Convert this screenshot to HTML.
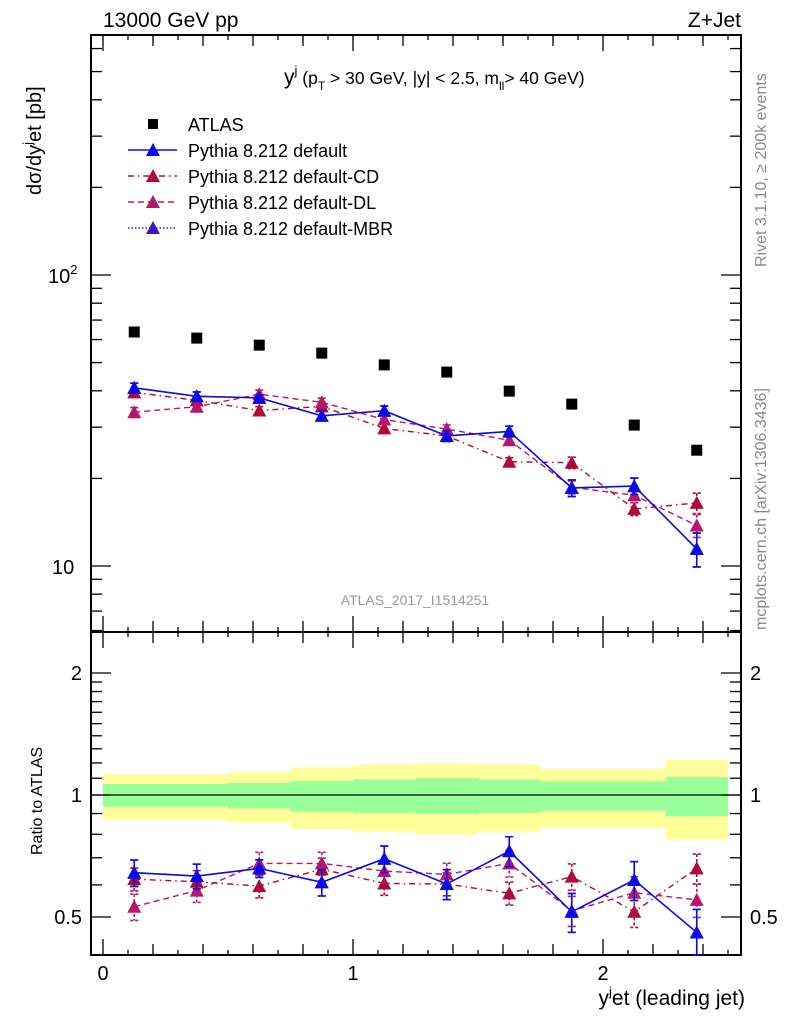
<!DOCTYPE html>
<html><head><meta charset="utf-8"><style>
html,body{margin:0;padding:0;background:#fff;}
svg{display:block;font-family:"Liberation Sans",sans-serif;}
</style></head><body>
<svg id="chart" width="786" height="1024" viewBox="0 0 786 1024" xmlns="http://www.w3.org/2000/svg"></svg>
<script>
const binEdges = [0,0.25,0.5,0.75,1,1.25,1.5,1.75,2,2.25,2.5];
const atlasValues = [63.7,60.7,57.4,53.9,49.1,46.4,39.9,36.0,30.5,25.0];
const ratioDefault = [0.643,0.631,0.659,0.609,0.696,0.603,0.727,0.515,0.617,0.458];
const ratioCD = [0.620,0.611,0.596,0.656,0.605,0.603,0.572,0.629,0.515,0.659];
const ratioDL = [0.530,0.581,0.678,0.678,0.649,0.637,0.678,0.518,0.574,0.551];
const ratioMBR = [0.643,0.631,0.659,0.609,0.696,0.603,0.727,0.515,0.617,0.458];
const relErrDefault = [0.075,0.07,0.05,0.075,0.075,0.085,0.085,0.11,0.11,0.14];
const relErrCD = [0.065,0.065,0.065,0.065,0.065,0.065,0.065,0.075,0.085,0.085];
const relErrDL = [0.075,0.065,0.065,0.065,0.065,0.065,0.075,0.085,0.095,0.095];
const mainErrScale = [0.5,0.5,0.5,0.5,0.5,0.5,0.5,0.6,0.6,0.95];
const statUp = [1.064,1.064,1.072,1.083,1.093,1.101,1.093,1.081,1.081,1.108];
const statDn = [0.936,0.936,0.927,0.910,0.904,0.898,0.904,0.915,0.915,0.886];
const totUp = [1.127,1.127,1.138,1.170,1.186,1.197,1.186,1.157,1.157,1.222];
const totDn = [0.868,0.868,0.856,0.824,0.812,0.798,0.812,0.832,0.832,0.776];
const mainTicksMajor = [10,100];
const ratioTickLabels = [0.5,1,2];
const xTickLabels = [0,1,2];

const NS="http://www.w3.org/2000/svg";
const svg=document.getElementById('chart');
const L=91,R=741,T=35,MB=632,B=955;
const X=v=>103+(v)*250;
const Y=v=>275-(Math.log10(v)-2)*291;
const YR=v=>795-Math.log2(v)*122;
function el(tag,attrs,parent){const e=document.createElementNS(NS,tag);for(const k in attrs)e.setAttribute(k,attrs[k]);(parent||svg).appendChild(e);return e;}
function txt(s,x,y,size,attrs,parent){const t=el('text',Object.assign({x:x,y:y,'font-size':size},attrs||{}),parent);t.innerHTML=s;return t;}

const bandG=el('g',{});


for(let i=0;i<10;i++){
  const x0=X(binEdges[i]),x1=X(binEdges[i+1]);
  const ry=el('rect',{x:x0,y:YR(totUp[i]),width:x1-x0,height:YR(totDn[i])-YR(totUp[i]),fill:'#ffff99'},bandG);
  
  
  const rg=el('rect',{x:x0,y:YR(statUp[i]),width:x1-x0,height:YR(statDn[i])-YR(statUp[i]),fill:'#99ff99'},bandG);
  
  
}
const one=el('line',{x1:L,x2:R,y1:YR(1),y2:YR(1),stroke:'#000','stroke-width':1.3});



const f1=el('rect',{x:L,y:T,width:R-L,height:MB-T,fill:'none',stroke:'#000','stroke-width':2});


const f2=el('rect',{x:L,y:MB,width:R-L,height:B-MB,fill:'none',stroke:'#000','stroke-width':2});



const tg=el('g',{stroke:'#000','stroke-width':1.3});


for(let d=1;d<=3;d++){for(let m=1;m<=9;m++){const v=m*Math.pow(10,d-1);const y=Y(v);if(y<T+1||y>MB-1)continue;const len=(m===1)?20:11;
  el('line',{x1:L,x2:L+len,y1:y,y2:y},tg);el('line',{x1:R,x2:R-len,y1:y,y2:y},tg);}}
[0.5,0.6,0.7,0.8,0.9,1,1.1,1.2,1.3,1.4,1.5,1.6,1.7,1.8,1.9,2].forEach(v=>{const y=YR(v);const len=(v===0.5||v===1||v===2)?20:11;
  el('line',{x1:L,x2:L+len,y1:y,y2:y},tg);el('line',{x1:R,x2:R-len,y1:y,y2:y},tg);});
for(let k=0;k<=25;k++){const v=k/10;const x=X(v);if(x>R-1)continue;const len=(k%10===0)?16:(k%2===0?11:5);
  el('line',{x1:x,x2:x,y1:B,y2:B-len},tg);el('line',{x1:x,x2:x,y1:MB,y2:MB-len},tg);el('line',{x1:x,x2:x,y1:MB,y2:MB+len},tg);el('line',{x1:x,x2:x,y1:T,y2:T+len},tg);}

const l100=txt('10<tspan font-size="13" dy="-9">2</tspan>',48,283,20);

const l10=txt('10',52,574,20);

ratioTickLabels.forEach(v=>{const s=String(v);
  const a=txt(s,82,YR(v)+7,20,{'text-anchor':'end'});
  const b=txt(s,750,YR(v)+7,20);});
xTickLabels.forEach(v=>{const a=txt(String(v),X(v),980,20,{'text-anchor':'middle'});});

const t1=txt('13000 GeV pp',103,27,21);
const t2=txt('Z+Jet',741,27,21,{'text-anchor':'end'});
const st=txt('y<tspan font-size="13" dy="-9">j</tspan><tspan dy="9" font-size="17.5"> (p</tspan><tspan font-size="12" dy="6">T</tspan><tspan dy="-6" font-size="17.5"> &gt; 30 GeV, |y| &lt; 2.5, m</tspan><tspan font-size="12" dy="6">ll</tspan><tspan dy="-6" font-size="17.5">&gt; 40 GeV)</tspan>',284,84,21);

const yt=txt('dσ/dy<tspan font-size="13" dy="-9">j</tspan><tspan dy="9">et [pb]</tspan>',0,0,20,{transform:'translate(41,195) rotate(-90)'});

const ryt=txt('Ratio to ATLAS',0,0,16,{transform:'translate(42,855) rotate(-90)'});

const xt=txt('y<tspan font-size="13" dy="-9">j</tspan><tspan dy="9">et (leading jet)</tspan>',745,1005,21,{'text-anchor':'end'});

const rv=txt('Rivet 3.1.10, ≥ 200k events',0,0,16,{transform:'translate(766,267) rotate(-90)',fill:'#888'});

const mc=txt('mcplots.cern.ch [arXiv:1306.3436]',0,0,16,{transform:'translate(766,630) rotate(-90)',fill:'#888'});

const an=txt('ATLAS_2017_I1514251',415,605,14,{'text-anchor':'middle',fill:'#999'});


function tri(x,y,c,g){return el('path',{d:`M${x},${y-7}L${x+7},${y+6}L${x-7},${y+6}Z`,fill:c},g);}
const series=[
 {name:'mbr',ratio:ratioMBR,err:relErrDefault,color:'#3c14c0',dash:'1.5,2',w:1.2},
 {name:'cd',ratio:ratioCD,err:relErrCD,color:'#b00838',dash:'6,4,1.5,4',w:1.4},
 {name:'dl',ratio:ratioDL,err:relErrDL,color:'#b8166c',dash:'6,4',w:1.4},
 {name:'default',ratio:ratioDefault,err:relErrDefault,color:'#0a0ae6',dash:'none',w:1.6}
];
series.forEach(s=>{
  [['main',i=>atlasValues[i]*s.ratio[i],Y],['ratio',i=>s.ratio[i],YR]].forEach(([pn,val,ys])=>{
    const g=el('g',{});
    
    
    let d='';
    for(let i=0;i<10;i++){const x=X((binEdges[i]+binEdges[i+1])/2);d+=(i?'L':'M')+x+','+ys(val(i));}
    el('path',{d:d,fill:'none',stroke:s.color,'stroke-width':s.w,'stroke-dasharray':s.dash},g);
    for(let i=0;i<10;i++){const x=X((binEdges[i]+binEdges[i+1])/2);const v=val(i);
      const e=s.err[i]*(pn==='main'?mainErrScale[i]:1);
      let y1=ys(v*(1+e)),y2=ys(v*(1-e));y2=Math.min(y2,pn==='ratio'?B:MB);
      el('path',{d:`M${x},${y1}L${x},${y2}M${x-4},${y1}L${x+4},${y1}M${x-4},${y2}L${x+4},${y2}`,stroke:s.color,'stroke-width':1.6,fill:'none','stroke-dasharray':s.name==='default'?'none':'3,2'},g);
      const m=tri(x,ys(v),s.color,g);
      
      
    }
  });
});
const ag=el('g',{});


for(let i=0;i<10;i++){const x=X((binEdges[i]+binEdges[i+1])/2);const r=el('rect',{x:x-5.5,y:Y(atlasValues[i])-5.5,width:11,height:11,fill:'#000'},ag);
  }

const lg=el('g',{});


const leg=[['ATLAS',null],['Pythia 8.212 default',series[3]],['Pythia 8.212 default-CD',series[1]],['Pythia 8.212 default-DL',series[2]],['Pythia 8.212 default-MBR',series[0]]];
leg.forEach((e,k)=>{const y=124+k*26;const g=el('g',{},lg);
  
  
  if(!e[1]){el('rect',{x:148,y:y-5,width:10,height:10,fill:'#000'},g);}
  else{el('line',{x1:128,x2:177,y1:y,y2:y,stroke:e[1].color,'stroke-width':1.4,'stroke-dasharray':e[1].dash},g);tri(153,y,e[1].color,g);}
  txt(e[0],188,y+7,18,{},g);});
</script>
</body></html>
